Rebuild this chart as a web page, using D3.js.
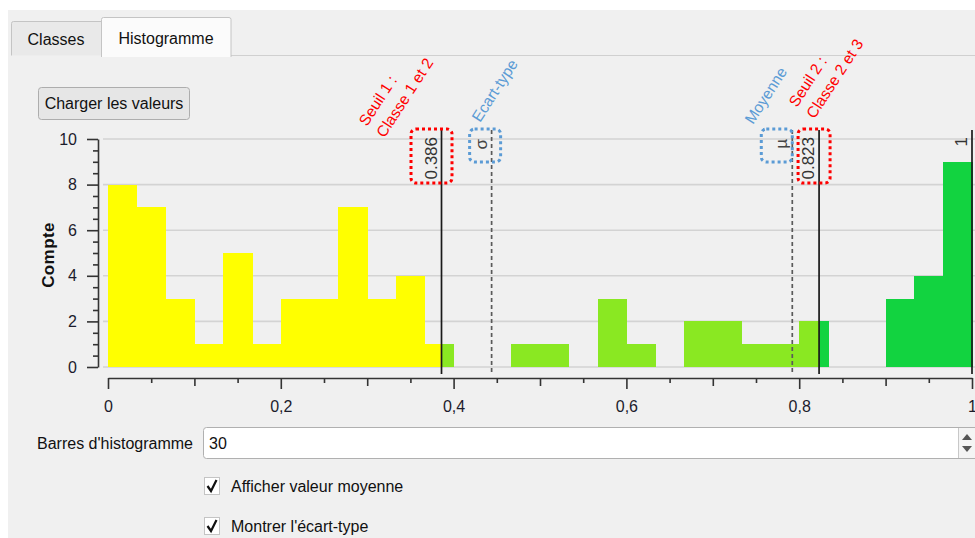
<!DOCTYPE html>
<html>
<head>
<meta charset="utf-8">
<script src="https://cdn.jsdelivr.net/npm/d3@7"></script>
<style>
  html, body { margin: 0; padding: 0; background: #ffffff; }
  svg { display: block; font-family: "Liberation Sans", Arial, sans-serif; }
</style>
</head>
<body>
<svg id="chart" width="975" height="538"></svg>
<script>
// ---------------- DATA ----------------
const binCounts = [8, 7, 3, 1, 5, 1, 3, 3, 7, 3, 4, 1, 0, 0, 1, 1, 0, 3, 1, 0, 2, 2, 1, 1, 2, 0, 0, 3, 4, 9];
const binDomain = [0, 1];
const classBreaks = [0.386, 0.823, 1];
const classColors = ["#ffff00", "#8ae822", "#12d340"];
const breakLabels = ["0.386", "0.823", "1"];
const meanValue = 0.792;
const stdDevLow = 0.444;
const xTicks = [0, 0.2, 0.4, 0.6, 0.8, 1];
const xMidTicks = [0.1, 0.3, 0.5, 0.7, 0.9];
const xMinorTicks = [0.05, 0.15, 0.25, 0.35, 0.45, 0.55, 0.65, 0.75, 0.85, 0.95];
const yTicks = [0, 2, 4, 6, 8, 10];
const yMinorTicks = d3.range(0, 10.01, 0.5).filter(v => v % 2 !== 0);
const yLabel = "Compte";
const tabLabels = ["Classes", "Histogramme"];

// ---------------- SETUP ----------------
const svg = d3.select("#chart");
const frFormat = d3.formatLocale({decimal: ",", thousands: " ", grouping: [3], currency: ["", " €"]}).format(".1~f");

// panel background
svg.append("rect").attr("x", 8).attr("y", 10).attr("width", 967).attr("height", 528).attr("fill", "#f0f0f0");

// tabs
svg.append("line").attr("x1", 231).attr("x2", 975).attr("y1", 55.5).attr("y2", 55.5).attr("stroke", "#d0d0d0");
svg.append("path").attr("d", "M11.5,55.5 V23.5 Q11.5,21.5 13.5,21.5 H101.5 V55.5")
  .attr("fill", "#e9e9e9").attr("stroke", "#c4c4c4");
svg.append("path").attr("d", "M101.5,57 V19.5 Q101.5,17.5 103.5,17.5 H229 Q231,17.5 231,19.5 V57")
  .attr("fill", "#fbfbfb").attr("stroke", "#c4c4c4");
svg.append("text").attr("x", 56).attr("y", 45).attr("text-anchor", "middle").attr("font-size", 16).attr("fill", "#111").text(tabLabels[0]);
svg.append("text").attr("x", 166).attr("y", 44).attr("text-anchor", "middle").attr("font-size", 16).attr("fill", "#111").text(tabLabels[1]);

// button
svg.append("rect").attr("x", 38.5).attr("y", 87.5).attr("width", 151).attr("height", 32).attr("rx", 3)
  .attr("fill", "#e6e6e6").attr("stroke", "#adadad");
svg.append("text").attr("x", 114).attr("y", 109).attr("text-anchor", "middle").attr("font-size", 16).attr("fill", "#111").text("Charger les valeurs");

// ---------------- SCALES ----------------
const x = d3.scaleLinear().domain(binDomain).range([108, 972]);
const y = d3.scaleLinear().domain([0, 10]).range([367, 139]);
const nBins = binCounts.length;
const binW = (binDomain[1] - binDomain[0]) / nBins;

// grid
svg.append("g").selectAll("line").data(yTicks).join("line")
  .attr("x1", 103).attr("x2", 975)
  .attr("y1", d => y(d)).attr("y2", d => y(d))
  .attr("stroke", "#d3d3d3").attr("stroke-width", 1.6);

// bars split by class
const segs = [];
binCounts.forEach((c, i) => {
  if (!c) return;
  const b0 = binDomain[0] + i * binW, b1 = b0 + binW;
  classBreaks.forEach((hi, k) => {
    const lo = k === 0 ? binDomain[0] : classBreaks[k - 1];
    const s0 = Math.max(b0, lo), s1 = Math.min(b1, hi);
    if (s1 > s0) segs.push({s0, s1, c, k});
  });
});
svg.append("g").attr("shape-rendering", "crispEdges").selectAll("rect").data(segs).join("rect")
  .attr("x", d => x(d.s0)).attr("width", d => x(d.s1) - x(d.s0) + 0.6)
  .attr("y", d => y(d.c)).attr("height", d => y(0) - y(d.c))
  .attr("fill", d => classColors[d.k]);

// mean & std dev dashed lines
svg.append("g").selectAll("line").data([stdDevLow, meanValue]).join("line")
  .attr("x1", d => x(d)).attr("x2", d => x(d)).attr("y1", 130).attr("y2", 374)
  .attr("stroke", "#5a5a5a").attr("stroke-width", 1.7).attr("stroke-dasharray", "4,3");
// threshold lines
svg.append("g").selectAll("line").data(classBreaks).join("line")
  .attr("x1", d => x(d)).attr("x2", d => x(d)).attr("y1", 130).attr("y2", 374)
  .attr("stroke", "#1a1a1a").attr("stroke-width", 1.7);

// marker labels
svg.append("g").selectAll("text").data(classBreaks).join("text")
  .attr("transform", d => `translate(${x(d) - 5},137) rotate(-90)`)
  .attr("text-anchor", "end").attr("font-size", 17).attr("fill", "#333")
  .text((d, i) => breakLabels[i]);
svg.append("g").selectAll("text").data([stdDevLow, meanValue]).join("text")
  .attr("transform", d => `translate(${x(d) - 5},139) rotate(-90)`)
  .attr("text-anchor", "end").attr("font-size", 17).attr("fill", "#444")
  .text((d, i) => i === 0 ? "σ" : "µ");

// ---------------- AXES ----------------
const axisColor = "#333";
svg.append("g").attr("transform", "translate(98,0)")
  .call(d3.axisLeft(y).tickValues(yTicks).tickSize(11).tickPadding(10).tickSizeOuter(0).tickFormat(d3.format("d")));
svg.append("g").attr("transform", "translate(98,0)")
  .call(d3.axisLeft(y).tickValues(yMinorTicks).tickSize(5).tickFormat(""))
  .call(g => g.select(".domain").remove());

svg.append("g").attr("transform", "translate(0,378)")
  .call(d3.axisBottom(x).tickValues(xTicks).tickSize(11).tickPadding(12).tickSizeOuter(0).tickFormat(frFormat));
svg.append("g").attr("transform", "translate(0,378)")
  .call(d3.axisBottom(x).tickValues(xMidTicks).tickSize(8).tickFormat(""))
  .call(g => g.select(".domain").remove());
svg.append("g").attr("transform", "translate(0,378)")
  .call(d3.axisBottom(x).tickValues(xMinorTicks).tickSize(5).tickFormat(""))
  .call(g => g.select(".domain").remove());

svg.selectAll(".domain, .tick line").attr("stroke", axisColor).attr("stroke-width", 1.6);
svg.selectAll(".tick text").attr("font-size", 16).attr("fill", "#1c1c2c").attr("font-family", "Liberation Sans, Arial, sans-serif");

svg.append("text").attr("transform", "translate(54,255) rotate(-90)")
  .attr("text-anchor", "middle").attr("font-size", 17).attr("font-weight", "bold").attr("letter-spacing", 0.4)
  .attr("fill", "#111").text(yLabel);

// ---------------- ANNOTATIONS ----------------
const red = "#ff0000", blue = "#5b9bd5";
function dotBox(x0, y0, w, h, col) {
  svg.append("rect").attr("x", x0).attr("y", y0).attr("width", w).attr("height", h).attr("rx", 5)
    .attr("fill", "none").attr("stroke", col).attr("stroke-width", 3).attr("stroke-dasharray", "3,3");
}
dotBox(x(classBreaks[0]) - 30.5, 129, 41, 54, red);
dotBox(x(stdDevLow) - 22, 129, 31, 33, blue);
dotBox(x(meanValue) - 31, 129, 31, 33, blue);
dotBox(x(classBreaks[1]) - 21, 129, 32, 54, red);

function rotText(px, py, lines, col) {
  const g = svg.append("g").attr("transform", `translate(${px},${py}) rotate(-57)`);
  lines.forEach((t, i) => g.append("text").attr("x", 0).attr("y", i * 21)
    .attr("font-size", 15.5).attr("fill", col).text(t));
}
rotText(367, 127, ["Seuil 1 :", "Classe 1 et 2"], red);
rotText(480, 123, ["Ecart-type"], blue);
rotText(753, 125, ["Moyenne"], blue);
rotText(797, 108, ["Seuil 2 :", "Classe 2 et 3"], red);

// ---------------- BOTTOM CONTROLS ----------------
svg.append("text").attr("x", 193).attr("y", 449).attr("text-anchor", "end").attr("font-size", 16).attr("fill", "#111").text("Barres d'histogramme");
svg.append("rect").attr("x", 203.5).attr("y", 427.5).attr("width", 780).attr("height", 31).attr("rx", 3)
  .attr("fill", "#ffffff").attr("stroke", "#b0b0b0");
svg.append("rect").attr("x", 958).attr("y", 428).attr("width", 17).attr("height", 30).attr("fill", "#f4f4f4");
svg.append("line").attr("x1", 958.5).attr("x2", 958.5).attr("y1", 428).attr("y2", 458).attr("stroke", "#c8c8c8");
svg.append("path").attr("d", "M962,440 L967,434 L972,440 Z").attr("fill", "#555");
svg.append("path").attr("d", "M962,446 L967,452 L972,446 Z").attr("fill", "#555");
svg.append("text").attr("x", 209).attr("y", 449).attr("font-size", 16).attr("fill", "#111").text(binCounts.length);

function checkbox(cy, label) {
  svg.append("rect").attr("x", 204.5).attr("y", cy - 8.5).attr("width", 15).attr("height", 17)
    .attr("fill", "#ffffff").attr("stroke", "#c4c4c4");
  svg.append("path").attr("d", `M207.5,${cy} L211,${cy + 5} L216.5,${cy - 6}`)
    .attr("fill", "none").attr("stroke", "#111").attr("stroke-width", 2.2);
  svg.append("text").attr("x", 231).attr("y", cy + 6).attr("font-size", 16).attr("fill", "#111").text(label);
}
checkbox(486, "Afficher valeur moyenne");
checkbox(526, "Montrer l'écart-type");
</script>
</body>
</html>
